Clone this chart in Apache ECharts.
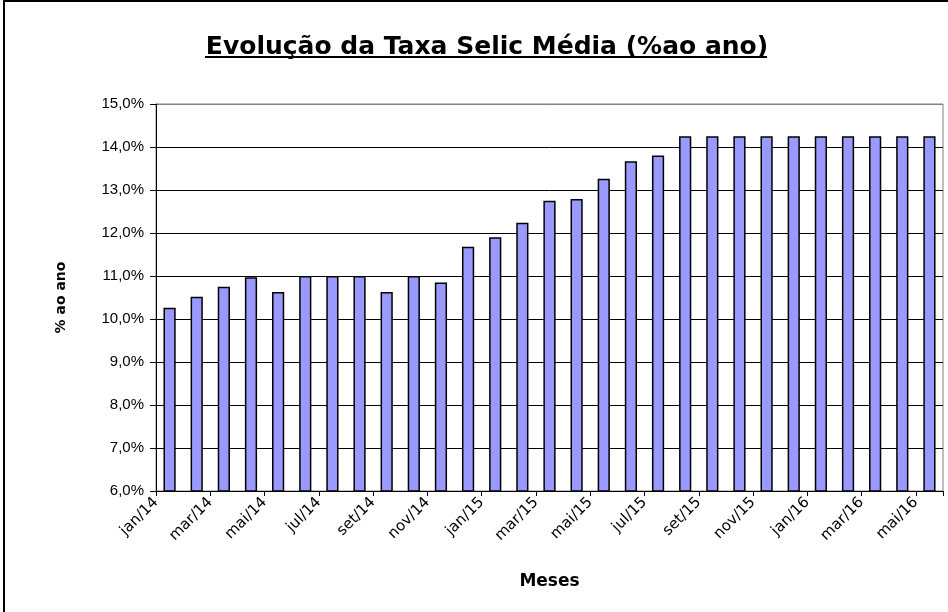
<!DOCTYPE html>
<html>
<head>
<meta charset="utf-8">
<script src="https://cdn.jsdelivr.net/npm/echarts@6/dist/echarts.min.js"></script>
<style>
html,body{margin:0;padding:0;background:#fff;}
#chart{width:948px;height:612px;}
</style>
</head>
<body>
<div id="chart"></div>
<script>
const categories = ['jan/14','fev/14','mar/14','abr/14','mai/14','jun/14','jul/14','ago/14','set/14','out/14','nov/14','dez/14',
  'jan/15','fev/15','mar/15','abr/15','mai/15','jun/15','jul/15','ago/15','set/15','out/15','nov/15','dez/15',
  'jan/16','fev/16','mar/16','abr/16','mai/16'];
const selic = [10.26, 10.52, 10.75, 10.97, 10.63, 11.0, 11.0, 11.0, 10.63, 11.0, 10.85, 11.68,
  11.90, 12.24, 12.75, 12.79, 13.26, 13.67, 13.80, 14.25, 14.25, 14.25, 14.25, 14.25,
  14.25, 14.25, 14.25, 14.25, 14.25];
const titleText = 'Evolução da Taxa Selic Média (%ao ano)';
const yAxisName = '% ao ano';
const xAxisName = 'Meses';

const chart = echarts.init(document.getElementById('chart'));
const font = '"DejaVu Sans", Verdana, sans-serif';
const arial = '"Liberation Sans", Arial, sans-serif';
chart.setOption({
  animation: false,
  backgroundColor: '#fff',
  title: {
    text: titleText,
    left: 482, top: 30, textAlign: 'center',
    textStyle: {fontFamily: font, fontSize: 25, fontWeight: 'bold', color: '#000'}
  },
  graphic: [
    {type: 'rect', shape: {x: 4, y: 1, width: 1000, height: 700}, style: {fill: 'none', stroke: '#000', lineWidth: 2}, silent: true},
    {type: 'line', shape: {x1: 205, y1: 57, x2: 767, y2: 57}, style: {stroke: '#000', lineWidth: 2}, silent: true}
  ],
  grid: {left: 156, right: 5, top: 104, bottom: 121, show: true, borderColor: '#808080', borderWidth: 1},
  xAxis: [{
    type: 'category', data: categories,
    axisLine: {lineStyle: {color: '#000', width: 1}},
    axisTick: {show: true, interval: 1, length: 5, inside: false, lineStyle: {color: '#000'}},
    axisLabel: {show: false}
  }, {
    type: 'category', data: categories.concat(['']), boundaryGap: false, position: 'bottom',
    name: xAxisName, nameLocation: 'middle', nameGap: 82,
    nameTextStyle: {fontFamily: font, fontSize: 17, fontWeight: 'bold', color: '#000'},
    axisLine: {show: false}, axisTick: {show: false}, splitLine: {show: false},
    axisLabel: {interval: 1, rotate: 45, fontFamily: font, fontSize: 15, color: '#000', margin: 9}
  }],
  yAxis: {
    type: 'value', min: 6, max: 15, interval: 1,
    name: yAxisName, nameLocation: 'middle', nameGap: 88, nameRotate: 90,
    nameTextStyle: {fontFamily: font, fontSize: 14, fontWeight: 'bold', color: '#000'},
    axisLine: {show: true, lineStyle: {color: '#000', width: 1}},
    axisTick: {show: true, length: 6, lineStyle: {color: '#000'}},
    axisLabel: {fontFamily: arial, fontSize: 15, color: '#000', margin: 12,
      formatter: v => v.toFixed(1).replace('.', ',') + '%'},
    splitLine: {show: true, lineStyle: {color: ['#000','#000','#000','#000','#000','#000','#000','#000','#000','#808080'], width: 1}}
  },
  series: [{
    type: 'bar', data: selic, barWidth: '45%', xAxisIndex: 0,
    itemStyle: {color: '#9999FF', borderColor: '#000', borderWidth: 1.5}
  }]
});
</script>
</body>
</html>
